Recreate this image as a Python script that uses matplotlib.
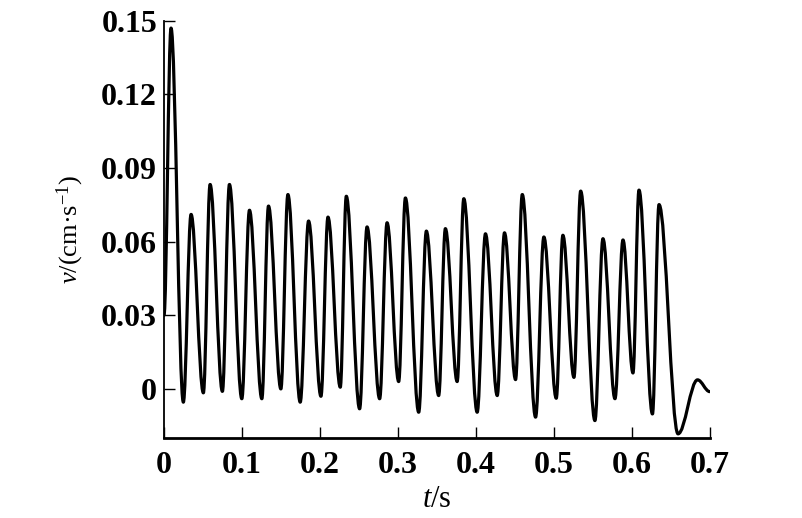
import matplotlib
matplotlib.use("Agg")
import matplotlib.pyplot as plt
from matplotlib.path import Path
from matplotlib.patches import PathPatch

# Extrema of the velocity trace (t in s, v in cm/s)
t_points = [0.0000, 0.0090, 0.0248, 0.0347, 0.0505, 0.0591, 0.0749, 0.0839, 0.0998,
            0.1096, 0.1255, 0.1340, 0.1499, 0.1589, 0.1747, 0.1854, 0.2013, 0.2103,
            0.2261, 0.2338, 0.2509, 0.2604, 0.2766, 0.2861, 0.3010, 0.3096, 0.3267,
            0.3365, 0.3523, 0.3609, 0.3760, 0.3845, 0.4017, 0.4123, 0.4274, 0.4367,
            0.4509, 0.4595, 0.4766, 0.4872, 0.5031, 0.5116, 0.5258, 0.5344, 0.5527,
            0.5630, 0.5784, 0.5887, 0.6015, 0.6092, 0.6265, 0.6349, 0.6593, 0.6843,
            0.7000]
v_points = [0.030, 0.147, -0.0054, 0.0711, -0.0016, 0.0833, -0.0010, 0.0833, -0.0040,
            0.0728, -0.0040, 0.0745, 0.0000, 0.0792, -0.0054, 0.0684, -0.0030, 0.0700,
            0.0007, 0.0785, -0.0081, 0.0660, -0.0040, 0.0677, 0.0030, 0.0778, -0.0095,
            0.0643, -0.0027, 0.0653, 0.0030, 0.0775, -0.0095, 0.0632, -0.0027, 0.0636,
            0.0038, 0.0792, -0.0115, 0.0619, -0.0038, 0.0626, 0.0047, 0.0806, -0.0129,
            0.0612, -0.0040, 0.0607, 0.0065, 0.0810, -0.0102, 0.0751, -0.0183, 0.0037,
            -0.0011]

x_ticks = [0, 0.1, 0.2, 0.3, 0.4, 0.5, 0.6, 0.7]
x_ticklabels = ["0", "0.1", "0.2", "0.3", "0.4", "0.5", "0.6", "0.7"]
y_ticks = [0, 0.03, 0.06, 0.09, 0.12, 0.15]
y_ticklabels = ["0", "0.03", "0.06", "0.09", "0.12", "0.15"]

plt.rcParams['font.family'] = ['Liberation Serif', 'DejaVu Serif']
plt.rcParams['mathtext.fontset'] = 'custom'
plt.rcParams['mathtext.rm'] = 'Liberation Serif'
plt.rcParams['mathtext.it'] = 'Liberation Serif:italic'
plt.rcParams['mathtext.bf'] = 'Liberation Serif:bold'

fig = plt.figure(figsize=(8.02, 5.18), dpi=100)
ax = fig.add_axes([0.2045, 0.1544, 0.6805, 0.8056])

# Smooth curve through the extrema: cubic Bezier segments with flat tangents at each extremum
verts = [(t_points[0], v_points[0])]
codes = [Path.MOVETO]
for i in range(1, len(t_points)):
    t0, v0 = t_points[i - 1], v_points[i - 1]
    t1, v1 = t_points[i], v_points[i]
    dt = t1 - t0
    verts += [(t0 + 0.36 * dt, v0), (t1 - 0.36 * dt, v1), (t1, v1)]
    codes += [Path.CURVE4, Path.CURVE4, Path.CURVE4]
patch = PathPatch(Path(verts, codes), fill=False, edgecolor='black', lw=2.3,
                  transform=ax.transData, capstyle='round', joinstyle='round')
ax.add_patch(patch)

ax.set_xlim(0, 0.7)
ax.set_ylim(-0.02, 0.15)
ax.set_xticks(x_ticks)
ax.set_xticklabels(x_ticklabels)
ax.set_yticks(y_ticks)
ax.set_yticklabels(y_ticklabels)

for s in ['top', 'right']:
    ax.spines[s].set_visible(False)
ax.spines['bottom'].set_linewidth(2.0)
ax.spines['left'].set_linewidth(1.3)

ax.tick_params(axis='both', direction='in', length=8, width=1.0, labelsize=23)
ax.tick_params(axis='x', pad=9)
ax.tick_params(axis='y', pad=5)
for lab in ax.get_xticklabels() + ax.get_yticklabels():
    lab.set_fontweight('bold')

ax.set_xlabel(r'$\mathit{t}$/s', fontsize=22, fontweight='normal', labelpad=4)
ax.set_ylabel(r'$\mathit{v}$/(cm·s$^{-1}$)', fontsize=19, fontweight='normal')
ax.yaxis.set_label_coords(-0.143, 0.5)

fig.savefig('out.png', dpi=100)
